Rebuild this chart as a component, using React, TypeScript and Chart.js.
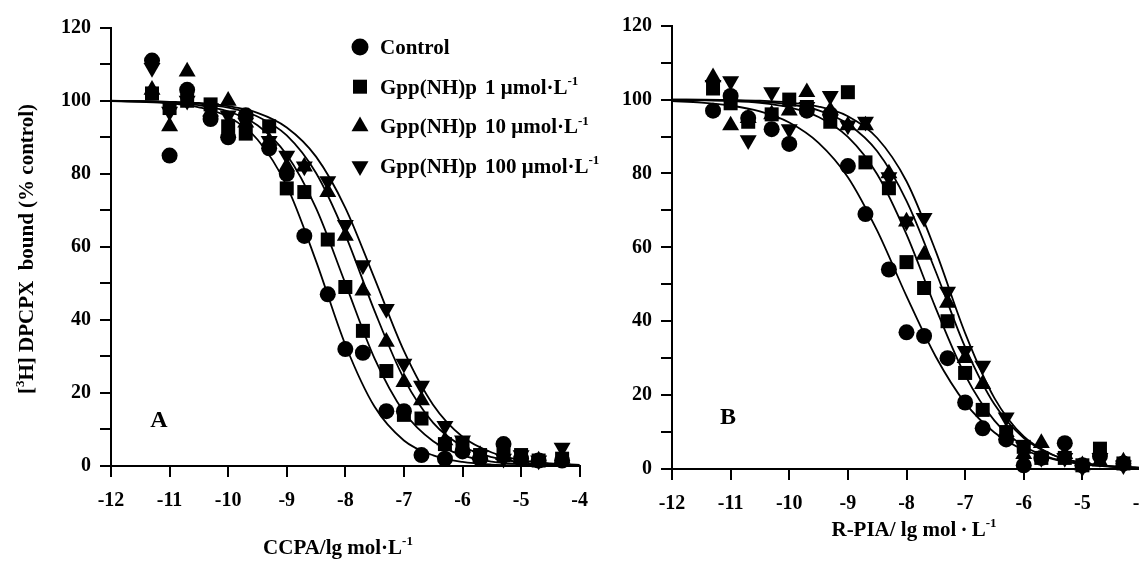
import React, { useEffect, useRef } from 'react';
import { Chart, registerables } from 'chart.js';

Chart.register(...registerables);

const SERIF = '"Liberation Serif", "Times New Roman", Times, serif';

// log molar concentrations at which binding was measured
const logConc = [-11.3, -11, -10.7, -10.3, -10, -9.7, -9.3, -9, -8.7, -8.3, -8, -7.7, -7.3, -7, -6.7, -6.3, -6, -5.7, -5.3, -5, -4.7, -4.3];

// Panel A (CCPA) - % control binding
const ccpaControl = [111, 85, 103, 95, 90, 96, 87, 80, 63, 47, 32, 31, 15, 15, 3, 2, 4, 2, 6, 2, 1.5, 1.5];
const ccpaGpp1 = [102, 98, 100, 99, 93, 91, 93, 76, 75, 62, 49, 37, 26, 14, 13, 6, 6, 3, 3, 3, 1.5, 2];
const ccpaGpp10 = [103, 93, 108, 97, 100, 94, 89, 82, 82, 75, 63, 48, 34, 23, 18, 7, 5, 3, 3, 2, 1.5, 2];
const ccpaGpp100 = [109, 97, 100, 98, 96, 94, 89, 85, 82, 78, 66, 55, 43, 28, 22, 11, 7, 3, 2, 3, 1.5, 5];

// Panel B (R-PIA) - % control binding
const rpiaControl = [97, 101, 95, 92, 88, 97, 96, 82, 69, 54, 37, 36, 30, 18, 11, 8, 1, 3, 7, 1, 3.5, 1.5];
const rpiaGpp1 = [103, 99, 94, 96, 100, 98, 94, 102, 83, 76, 56, 49, 40, 26, 16, 10, 6, 3, 3, 1, 5.5, 1.5];
const rpiaGpp10 = [106, 93, 95, 96, 97, 102, 97, 93, 93, 80, 67, 58, 45, 30, 23, 10, 4, 7, 4, 1, 2, 2];
const rpiaGpp100 = [104, 105, 89, 102, 92, 98, 101, 93, 94, 79, 67, 68, 48, 32, 28, 14, 6, 3, 3, 0.5, 3, 1];

// fitted curves
const fitX = [-12, -11.5, -11, -10.5, -10, -9.5, -9, -8.5, -8, -7.5, -7, -6.5, -6, -5.5, -5, -4.5, -4];
const ccpaControlFit = [99.9, 99.7, 99.3, 98.2, 95.6, 89.4, 76.7, 56.1, 33.2, 16.2, 7.0, 2.9, 1.1, 0.4, 0.2, 0.1, 0.0];
const ccpaGpp1Fit = [99.9, 99.8, 99.5, 98.8, 97.1, 93.3, 85.2, 70.6, 50.0, 29.4, 14.8, 6.8, 2.9, 1.2, 0.5, 0.2, 0.1];
const ccpaGpp10Fit = [99.9, 99.9, 99.7, 99.2, 98.1, 95.7, 90.5, 80.2, 63.3, 42.4, 23.9, 11.8, 5.4, 2.4, 1.0, 0.4, 0.2];
const ccpaGpp100Fit = [100.0, 99.9, 99.7, 99.4, 98.5, 96.7, 92.7, 84.7, 70.7, 51.3, 31.5, 16.7, 8.0, 3.7, 1.6, 0.7, 0.3];
const rpiaControlFit = [99.6, 99.2, 98.4, 96.8, 93.8, 88.3, 79.0, 64.5, 46.8, 30.4, 17.9, 9.9, 5.2, 2.7, 1.4, 0.7, 0.3];
const rpiaGpp1Fit = [99.9, 99.8, 99.6, 99.1, 97.9, 95.3, 89.9, 79.8, 63.5, 43.5, 25.4, 13.1, 6.2, 2.8, 1.3, 0.6, 0.3];
const rpiaGpp10Fit = [100.0, 99.9, 99.8, 99.4, 98.7, 97.1, 93.4, 86.0, 72.6, 53.4, 33.0, 17.5, 8.4, 3.8, 1.7, 0.7, 0.3];
const rpiaGpp100Fit = [100.0, 100.0, 99.9, 99.7, 99.2, 98.1, 95.5, 89.6, 77.9, 58.9, 36.8, 19.2, 8.8, 3.8, 1.6, 0.7, 0.3];

// text
const seriesLabels = ['Control', 'Gpp(NH)p', 'Gpp(NH)p', 'Gpp(NH)p'];
const seriesDoses = ['', '1', '10', '100'];
const doseUnit = ' \u03bcmol\u00b7L';
const xTitleA = 'CCPA/lg mol\u00b7L';
const xTitleB = 'R-PIA/ lg mol\u2009\u00b7\u2009L';
const yTitleMain = 'H] DPCPX  bound (% control)';
const supMinusOne = '-1';

const markers = [
  { style: 'circle', radius: 8, rotation: 0 },
  { style: 'rect', radius: 9.9, rotation: 0 },
  { style: 'triangle', radius: 9.8, rotation: 0 },
  { style: 'triangle', radius: 9.8, rotation: 180 },
];

type Part = { t: string; sup?: boolean };

function drawRich(ctx: CanvasRenderingContext2D, parts: Part[], x: number, y: number, size: number, align: 'left' | 'center' = 'left') {
  ctx.save();
  ctx.textBaseline = 'alphabetic';
  ctx.textAlign = 'left';
  const main = `bold ${size}px ${SERIF}`;
  const small = `bold ${Math.round(size * 0.62)}px ${SERIF}`;
  let total = 0;
  for (const p of parts) {
    ctx.font = p.sup ? small : main;
    total += ctx.measureText(p.t).width;
  }
  let cx = align === 'center' ? x - total / 2 : x;
  for (const p of parts) {
    ctx.font = p.sup ? small : main;
    ctx.fillText(p.t, cx, p.sup ? y - size * 0.42 : y);
    cx += ctx.measureText(p.t).width;
  }
  ctx.restore();
}

function drawMarker(ctx: CanvasRenderingContext2D, kind: number, x: number, y: number) {
  ctx.beginPath();
  if (kind === 0) ctx.arc(x, y, 8.5, 0, Math.PI * 2);
  else if (kind === 1) ctx.rect(x - 7, y - 7, 14, 14);
  else {
    const r = 9.8;
    const s = kind === 2 ? 1 : -1;
    ctx.moveTo(x, y - s * r);
    ctx.lineTo(x + r * 0.866, y + s * r / 2);
    ctx.lineTo(x - r * 0.866, y + s * r / 2);
    ctx.closePath();
  }
  ctx.fill();
}

const annotA = {
  id: 'annotA',
  afterDraw(chart: any) {
    const ctx: CanvasRenderingContext2D = chart.ctx;
    ctx.save();
    ctx.fillStyle = '#000';
    // y title (rotated)
    ctx.save();
    ctx.translate(26, 249);
    ctx.rotate(-Math.PI / 2);
    drawRich(ctx, [{ t: '[' }, { t: '3', sup: true }, { t: yTitleMain }], 0, 7, 21, 'center');
    ctx.restore();
    // x title
    drawRich(ctx, [{ t: xTitleA }, { t: supMinusOne, sup: true }], 338, 554, 21, 'center');
    // legend
    for (let i = 0; i < 4; i++) {
      const ry = 47 + i * 39.7;
      drawMarker(ctx, i, 360, ry);
      drawRich(ctx, [{ t: seriesLabels[i] }], 380, ry + 7, 21);
      if (seriesDoses[i]) {
        drawRich(ctx, [{ t: seriesDoses[i] + doseUnit }, { t: supMinusOne, sup: true }], 485, ry + 7, 21);
      }
    }
    // panel letter
    drawRich(ctx, [{ t: 'A' }], 159, 427, 24, 'center');
    ctx.restore();
  },
};

const annotB = {
  id: 'annotB',
  afterDraw(chart: any) {
    const ctx: CanvasRenderingContext2D = chart.ctx;
    ctx.save();
    ctx.fillStyle = '#000';
    drawRich(ctx, [{ t: xTitleB }, { t: supMinusOne, sup: true }], 314, 536, 21, 'center');
    drawRich(ctx, [{ t: 'B' }], 128, 424, 24, 'center');
    ctx.restore();
  },
};

type PanelOpts = {
  series: number[][];
  fits: number[][];
  width: number;
  height: number;
  area: { left: number; right: number; top: number; bottom: number };
  plugin: any;
};

function buildConfig(o: PanelOpts): any {
  const datasets: any[] = [];
  o.fits.forEach((fit) => {
    datasets.push({
      type: 'line',
      data: fitX.map((x, i) => ({ x, y: fit[i] })),
      borderColor: '#000',
      borderWidth: 1.8,
      pointRadius: 0,
      pointHoverRadius: 0,
      cubicInterpolationMode: 'monotone',
      fill: false,
      order: 2,
    });
  });
  o.series.forEach((vals, k) => {
    datasets.push({
      type: 'scatter',
      data: logConc.map((x, i) => ({ x, y: vals[i] })),
      backgroundColor: '#000',
      borderColor: '#000',
      borderWidth: 0,
      pointStyle: markers[k].style,
      pointRadius: markers[k].radius,
      pointHoverRadius: markers[k].radius,
      pointRotation: markers[k].rotation,
      clip: false,
      order: 1,
    });
  });
  const tickFont = { family: SERIF, size: 20, weight: 'bold' };
  const grid = { drawOnChartArea: false, drawTicks: true, tickLength: 11, color: '#000', lineWidth: 2 };
  const border = { display: true, color: '#000', width: 2 };
  return {
    type: 'scatter',
    data: { datasets },
    options: {
      responsive: false,
      animation: false,
      devicePixelRatio: 1,
      events: [],
      layout: {
        autoPadding: false,
        padding: { left: 0, top: o.area.top, right: o.width - o.area.right, bottom: 0 },
      },
      plugins: { legend: { display: false }, tooltip: { enabled: false }, title: { display: false } },
      scales: {
        x: {
          type: 'linear',
          min: -12,
          max: -4,
          ticks: {
            stepSize: 1,
            autoSkip: false,
            maxRotation: 0,
            color: '#000',
            padding: 12,
            font: tickFont,
            callback: (v: number) => String(Math.round(v)),
          },
          grid,
          border,
          afterFit: (s: any) => {
            s.height = o.height - o.area.bottom;
          },
        },
        y: {
          type: 'linear',
          min: 0,
          max: 120,
          ticks: {
            stepSize: 10,
            autoSkip: false,
            color: '#000',
            padding: 9,
            font: tickFont,
            callback: (v: number) => (Math.round(v) % 20 === 0 ? String(Math.round(v)) : ''),
          },
          grid,
          border,
          afterFit: (s: any) => {
            s.width = o.area.left;
          },
        },
      },
    },
    plugins: [o.plugin],
  };
}

export default function App() {
  const refA = useRef<HTMLCanvasElement>(null);
  const refB = useRef<HTMLCanvasElement>(null);

  useEffect(() => {
    const a = new Chart(
      refA.current as HTMLCanvasElement,
      buildConfig({
        series: [ccpaControl, ccpaGpp1, ccpaGpp10, ccpaGpp100],
        fits: [ccpaControlFit, ccpaGpp1Fit, ccpaGpp10Fit, ccpaGpp100Fit],
        width: 600,
        height: 567,
        area: { left: 111, right: 580, top: 27.7, bottom: 466 },
        plugin: annotA,
      })
    );
    const b = new Chart(
      refB.current as HTMLCanvasElement,
      buildConfig({
        series: [rpiaControl, rpiaGpp1, rpiaGpp10, rpiaGpp100],
        fits: [rpiaControlFit, rpiaGpp1Fit, rpiaGpp10Fit, rpiaGpp100Fit],
        width: 570,
        height: 567,
        area: { left: 72, right: 541, top: 25.7, bottom: 469 },
        plugin: annotB,
      })
    );
    return () => {
      a.destroy();
      b.destroy();
    };
  }, []);

  return (
    <div style={{ position: 'fixed', left: 0, top: 0, width: 1139, height: 567, overflow: 'hidden', background: '#fff' }}>
      <canvas ref={refA} width={600} height={567} style={{ position: 'absolute', left: 0, top: 0, width: 600, height: 567 }} />
      <canvas ref={refB} width={570} height={567} style={{ position: 'absolute', left: 600, top: 0, width: 570, height: 567 }} />
    </div>
  );
}
